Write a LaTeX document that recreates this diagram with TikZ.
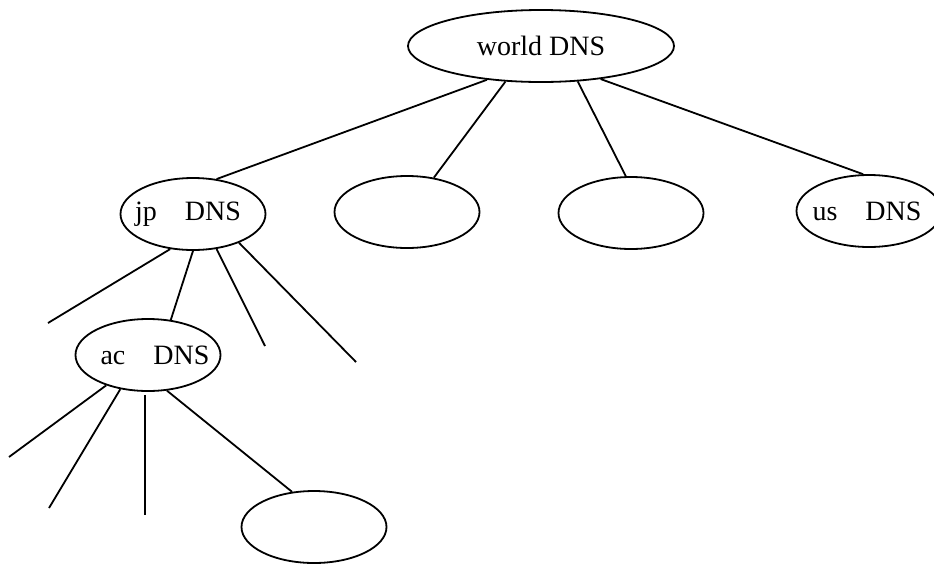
\documentclass[tikz,border=0pt]{standalone}
\usepackage{fontspec}
\setmainfont{Liberation Serif}
\usetikzlibrary{shapes.geometric}

\begin{document}
\begin{tikzpicture}
[x=1pt,y=-1pt,line width=1.8pt,
  dns node/.style={ellipse,draw,inner sep=0pt,minimum width=145pt,minimum height=72pt,
    font=\fontsize{28}{32}\selectfont},
  root node/.style={dns node,minimum width=266pt}]
  \useasboundingbox (0,0) rectangle (934,563);

  \node [root node] (world) at 		(541,46) 	{world DNS};
  \node [dns node] (jp) at 		(193,214) 	{\makebox[0pt]{\hspace{-10pt}jp\hspace{28pt}DNS}};
  \node [dns node] (blankA) at 		(407,212) 	{};
  \node [dns node] (blankB) at 		(631,213) 	{};
  \node [dns node] (us) at 		(869,211) 	{\makebox[0pt]{\hspace{-4pt}us\hspace{28pt}DNS}};
  \node [dns node] (ac) at 		(148,355) 	{\makebox[0pt]{\hspace{14pt}ac\hspace{28pt}DNS}};
  \node [dns node] (blankC) at 		(314,527) 	{};

  % loose ends
  \coordinate (jpA) at (48,323);
  \coordinate (jpB) at (265,346);
  \coordinate (jpC) at (356,362);
  \coordinate (acA) at (9,457);
  \coordinate (acB) at (49,508);
  \coordinate (acC) at (145,515);

   \foreach \from/\to in {world.212/jp.56,world.225/blankA.52,world.316/blankB.98,world.331/us.99,
       jp.237/jpA,jp.270/ac.57,jp.304/jpB,jp.328/jpC,
       ac.216/acA,ac.231/acB,ac.298/blankC.122}
     \draw (\from) -- (\to);
   \draw (acC |- ac.south) ++(0,3) -- (acC);

\end{tikzpicture}
\end{document}
